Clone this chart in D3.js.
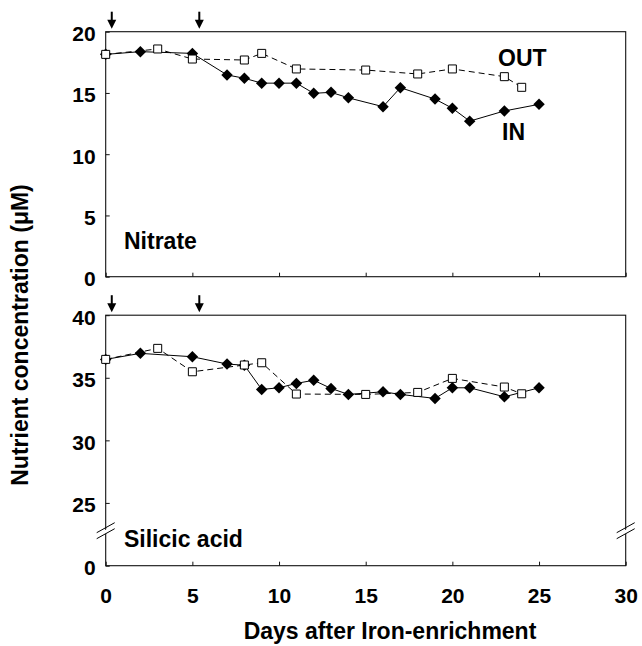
<!DOCTYPE html>
<html>
<head>
<meta charset="utf-8">
<script src="https://cdn.jsdelivr.net/npm/d3@7"></script>
<style>
  body { margin: 0; background: #fff; }
  text { font-family: Arial, "Liberation Sans", sans-serif; font-weight: bold; fill: #000; }
</style>
</head>
<body>
<div id="chart"></div>
<script>
////// DATA
    // Sampling days for inside and outside the patch
var inDays  = [0, 2, 5, 7, 8, 9, 10, 11, 12, 13, 14, 16, 17, 19, 20, 21, 23, 25];
var outDays = [0, 3, 5, 8, 9, 11, 15, 18, 20, 23, 24];
    // Nitrate (uM)
var nitrateIn  = [18.15, 18.37, 18.23, 16.47, 16.2, 15.8, 15.8, 15.8, 14.97, 15.05, 14.6, 13.88, 15.43, 14.5, 13.75, 12.7, 13.53, 14.07];
var nitrateOut = [18.15, 18.59, 17.77, 17.69, 18.23, 16.96, 16.87, 16.55, 16.96, 16.33, 15.46];
    // Silicic acid (uM)
var silicIn  = [36.47, 36.95, 36.68, 36.1, 36.0, 34.07, 34.2, 34.55, 34.8, 34.15, 33.67, 33.88, 33.67, 33.35, 34.2, 34.2, 33.48, 34.2];
var silicOut = [36.47, 37.35, 35.48, 36.02, 36.2, 33.7, 33.67, 33.83, 34.95, 34.26, 33.72];
    // Iron addition days (arrows)
var ironDays = [0.35, 5.4];
    // Tick labels
var xTicks = [0, 5, 10, 15, 20, 25, 30];
var nitrateTicks = [0, 5, 10, 15, 20];
var silicTicks = [0, 25, 30, 35, 40];
var silicBreak = 22.7;

////// SETUP SVG
var width = 642, height = 646;
var svg = d3.select("#chart")
    .append("svg")
    .attr("width", width)
    .attr("height", height);

    // Shared x scale
var x = d3.scaleLinear().domain([0, 30]).range([105.7, 625.7]);

    // Panel y scales (silicic acid axis is broken between 0 and 25)
var yTop = d3.scaleLinear().domain([0, 20]).range([276.7, 31.7]);
var yBot = d3.scaleLinear().domain([0, silicBreak, 40]).range([565.7, 531.7, 315.2]);

function pairs(days, vals) {
    return days.map(function(d, i) { return {day: d, value: vals[i]}; });
}

////// DRAW ONE PANEL
function drawPanel(y, ticks, inVals, outVals, label, labelY, showXLabels) {
    var g = svg.append("g");
    var y0 = y.range()[0], y1 = y.range()[y.range().length - 1];

    // Frame
    g.append("rect")
        .attr("x", x(0)).attr("y", y1)
        .attr("width", x(30) - x(0)).attr("height", y0 - y1)
        .attr("fill", "none")
        .attr("stroke", "#111")
        .attr("stroke-width", 1.1);

    // Y axis
    var yAxis = g.append("g")
        .attr("transform", "translate(" + x(0) + ",0)")
        .call(d3.axisLeft(y).tickValues(ticks).tickSizeInner(-4).tickSizeOuter(0).tickPadding(10));
    yAxis.select(".domain").remove();
    yAxis.selectAll("line").attr("stroke", "#111");
    yAxis.selectAll("text")
        .attr("font-size", "21px")
        .attr("dy", "0.42em");

    // X axis
    var xAxis = g.append("g")
        .attr("transform", "translate(0," + y0 + ")")
        .call(d3.axisBottom(x).tickValues(xTicks).tickSizeInner(-4).tickSizeOuter(0).tickPadding(22)
            .tickFormat(showXLabels ? d3.format("d") : ""));
    xAxis.select(".domain").remove();
    xAxis.selectAll("line").attr("stroke", "#111");
    xAxis.selectAll("text").attr("font-size", "21px");

    // Lines
    var line = d3.line()
        .x(function(d) { return x(d.day); })
        .y(function(d) { return y(d.value); });

    g.append("path")
        .datum(pairs(inDays, inVals))
        .attr("d", line)
        .attr("fill", "none")
        .attr("stroke", "#000")
        .attr("stroke-width", 1);

    g.append("path")
        .datum(pairs(outDays, outVals))
        .attr("d", line)
        .attr("fill", "none")
        .attr("stroke", "#000")
        .attr("stroke-width", 1)
        .attr("stroke-dasharray", "6,4");

    // IN markers: filled diamonds
    g.selectAll(".in")
        .data(pairs(inDays, inVals))
        .enter()
        .append("path")
        .attr("d", d3.symbol(d3.symbolSquare, 66))
        .attr("transform", function(d) {
            return "translate(" + x(d.day) + "," + y(d.value) + ") rotate(45)";
        })
        .attr("fill", "#000");

    // OUT markers: open squares
    g.selectAll(".out")
        .data(pairs(outDays, outVals))
        .enter()
        .append("path")
        .attr("d", d3.symbol(d3.symbolSquare, 64))
        .attr("transform", function(d) {
            return "translate(" + x(d.day) + "," + y(d.value) + ")";
        })
        .attr("fill", "#fff")
        .attr("stroke", "#000")
        .attr("stroke-width", 1);

    // Iron addition arrows
    ironDays.forEach(function(d) {
        var ax = x(d);
        g.append("line")
            .attr("x1", ax).attr("x2", ax)
            .attr("y1", y1 - 20).attr("y2", y1 - 10)
            .attr("stroke", "#000").attr("stroke-width", 2);
        g.append("path")
            .attr("d", "M" + (ax - 4.5) + "," + (y1 - 12) + "L" + (ax + 4.5) + "," + (y1 - 12) + "L" + ax + "," + (y1 - 3) + "Z")
            .attr("fill", "#000");
    });

    // Panel label
    g.append("text")
        .attr("x", 124)
        .attr("y", labelY)
        .attr("font-size", "23px")
        .text(label);

    return g;
}

var top = drawPanel(yTop, nitrateTicks, nitrateIn, nitrateOut, "Nitrate", 249, false);
var bot = drawPanel(yBot, silicTicks, silicIn, silicOut, "Silicic acid", 547, true);

////// AXIS BREAK MARKS (both sides of silicic acid panel)
[x(0), x(30)].forEach(function(bx) {
    var by = yBot(silicBreak);
    bot.append("path")
        .attr("d", "M" + (bx - 9) + "," + (by + 5) + "L" + (bx + 9) + "," + (by - 5) +
                   "L" + (bx + 9) + "," + (by - 1) + "L" + (bx - 9) + "," + (by + 9) + "Z")
        .attr("transform", "translate(0,-2)")
        .attr("fill", "#fff");
    [-4, 2].forEach(function(o) {
        bot.append("line")
            .attr("x1", bx - 9).attr("y1", by + o + 5)
            .attr("x2", bx + 9).attr("y2", by + o - 5)
            .attr("stroke", "#000").attr("stroke-width", 1);
    });
});

////// IN / OUT LABELS
svg.append("text").attr("x", 498).attr("y", 66).attr("font-size", "23px").text("OUT");
svg.append("text").attr("x", 502).attr("y", 140).attr("font-size", "23px").text("IN");

////// AXIS TITLES
svg.append("text")
    .attr("x", 390)
    .attr("y", 639)
    .attr("text-anchor", "middle")
    .attr("font-size", "23px")
    .text("Days after Iron-enrichment");

svg.append("text")
    .attr("transform", "translate(28,335) rotate(-90)")
    .attr("text-anchor", "middle")
    .attr("font-size", "23px")
    .text("Nutrient concentration (\u03BCM)");
</script>
</body>
</html>
